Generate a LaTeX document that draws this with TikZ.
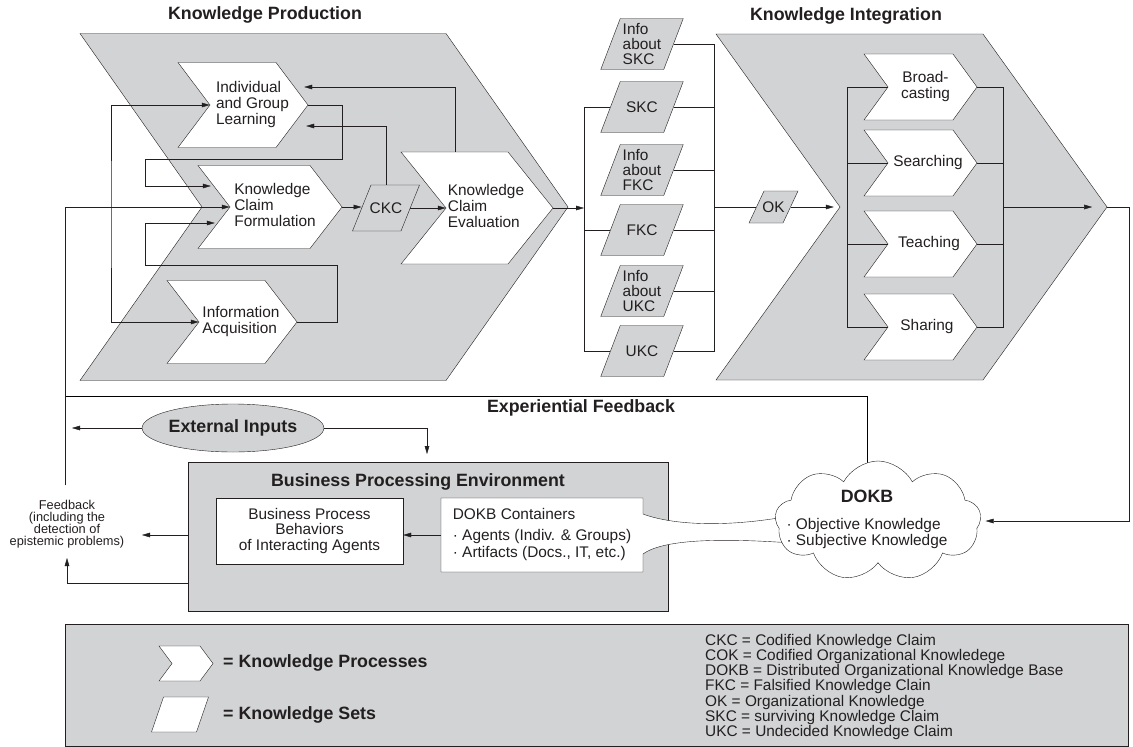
\documentclass[tikz,border=0pt]{standalone}
\usepackage{fontspec}
\setmainfont{Liberation Sans}
\usetikzlibrary{arrows.meta,calc,shapes.geometric,shapes.symbols}
\pgfdeclarelayer{back}
\pgfsetlayers{back,main}
\definecolor{kgray}{HTML}{D1D3D4}
\definecolor{ink}{HTML}{231F20}
\newcommand\bodyfont{\fontsize{15.4}{15.3}\selectfont}
\newcommand\headfont{\fontsize{17.8}{18}\selectfont\bfseries}
% left-aligned / centred text blocks with extra room on the right
\newcommand\ctab[2]{\begin{tabular}{@{}l@{\hspace{#1}}}#2\end{tabular}}
\newcommand\cctab[2]{\begin{tabular}{@{}c@{\hspace{#1}}}#2\end{tabular}}
% process chevron: [fill]{name}{notch x}{tip x}{mid y}{height}{depth}{text}
\newcommand\chev[8][white]{%
  \pgfmathsetmacro\chw{#4-#3}%
  \filldraw[fill=#1] (#3-#7,#5-#6/2) -- (#4-#7,#5-#6/2) -- (#4,#5)
    -- (#4-#7,#5+#6/2) -- (#3-#7,#5+#6/2) -- (#3,#5) -- cycle;
  \node[chevnode, minimum width=\chw pt, minimum height=#6pt] (#2) at ({(#3+#4)/2},#5) {#8};}
% knowledge set parallelogram: [fill]{name}{x}{y}{width}{height}{slant}{text}
\newcommand\kset[8][kgray]{%
  \pgfmathsetmacro\ksl{#7/2}%
  \filldraw[fill=#1] (#3-#5/2-\ksl,#4+#6/2) -- (#3+#5/2-\ksl,#4+#6/2)
    -- (#3+#5/2+\ksl,#4-#6/2) -- (#3-#5/2+\ksl,#4-#6/2) -- cycle;
  \node[setnode, minimum width=#5pt, minimum height=#6pt] (#2) at (#3,#4) {#8};}

\begin{document}
\begin{tikzpicture}[x=1pt, y=-1pt, line width=1pt, color=ink,
  arr/.style={-{Triangle[length=8pt,width=4.6pt]}},
  arrboth/.style={{Triangle[length=8pt,width=4.6pt]}-{Triangle[length=8pt,width=4.6pt]}},
  chevnode/.style={inner sep=0pt, font=\bodyfont},
  setnode/.style={inner sep=0pt, font=\bodyfont, align=left},
  head/.style={font=\headfont, inner sep=0pt}]
\useasboundingbox (0,0) rectangle (1133,747);
\begin{pgfonlayer}{back}
  \fill[white] (0,0) rectangle (1133,747);
\end{pgfonlayer}

% ---- titles
\node[head] (tkp) at (265,15) {Knowledge Production};
\node[head] (tki) at (846,16) {Knowledge Integration};

% ---- the two main processes
\chev[kgray]{kp}{202}{568}{207}{347}{122}{}
\chev[kgray]{ki}{840}{1107}{207}{346}{124}{}

% ---- knowledge production sub-processes
\chev{igl}{210}{308}{105}{85}{32}{\ctab{13pt}{Individual\\and Group\\Learning}}
\chev{kcf}{230}{342}{207}{83}{32}{\ctab{22pt}{Knowledge\\Claim\\Formulation}}
\chev{ia}{199}{297}{322}{83}{32}{\ctab{14pt}{Information\\Acquisition}}
\chev{kce}{446}{553}{208}{112}{45}{\ctab{27pt}{Knowledge\\Claim\\Evaluation}}

% ---- knowledge integration sub-processes
\chev{bc}{888}{977}{87}{66}{24}{\cctab{14pt}{Broad-\\casting}}
\chev{se}{888}{977}{163}{66}{24}{\cctab{9pt}{Searching}}
\chev{te}{888}{977}{244}{66}{24}{\cctab{7pt}{Teaching}}
\chev{sh}{888}{977}{327}{66}{24}{\cctab{11pt}{Sharing}}

% ---- knowledge sets
\kset{ckc}{386}{208}{48.5}{46}{18.5}{CKC}
\kset{iskc}{642}{44}{63}{51}{19.5}{Info\\about\\SKC}
\kset{skc}{642}{107}{63}{51}{19.5}{SKC}
\kset{ifkc}{642}{170}{63}{51}{19.5}{Info\\about\\FKC}
\kset{fkc}{642}{230}{63}{51}{19.5}{FKC}
\kset{iukc}{642}{291}{63}{51}{19.5}{Info\\about\\UKC}
\kset{ukc}{642}{351}{63}{51}{19.5}{UKC}
\kset{ok}{773.5}{207}{34}{32}{15}{OK}

% ---- flows inside knowledge production
\draw[arr] (kcf.east) -- (kcf.east -| ckc.west);
\draw[arr] (ckc.east) -- (ckc.east -| kce.west);
\draw[arr] ($(kce.north)+(-44.5,0)$) |- ($(igl.east)+(-4,-18)$);
\draw[arr] (ckc.north) |- ($(igl.east)+(-2,21)$);
\draw[arr] (igl.east) -| (342,159) -- (145,159) |- ($(kcf.west)+(-19,-21)$);
\draw[arr] (ia.east) -| (337,265) -- (145,265) |- ($(kcf.west)+(-15,16)$);
\draw[arrboth] (igl.west) -| (111,215) |- (ia.west);

% ---- sets between production and integration
\coordinate (lbx) at (584,0);
\coordinate (rbx) at (714,0);
\draw[arr] (kce.east) -- (kce.east -| lbx);
\draw (skc.west) -- (skc.west -| lbx) -- (ukc.west -| lbx) -- (ukc.west);
\draw (fkc.west) -- (fkc.west -| lbx);
\draw (iskc.east) -- (iskc.east -| rbx) -- (ukc.east -| rbx) -- (ukc.east);
\foreach \s in {skc,ifkc,fkc,iukc} \draw (\s.east) -- (\s.east -| rbx);
\draw (rbx |- ok.west) -- (ok.west);
\draw[arr, shorten >=6pt] (ok.east) -- (ok.east -| ki.west);

% ---- flows inside knowledge integration
\coordinate (klx) at (847,0);
\coordinate (krx) at (1003,0);
\draw (bc.west) -- (bc.west -| klx) -- (sh.west -| klx) -- (sh.west);
\foreach \s in {se,te} \draw (\s.west) -- (\s.west -| klx);
\draw (bc.east) -- (bc.east -| krx) -- (sh.east -| krx) -- (sh.east);
\foreach \s in {se,te} \draw (\s.east) -- (\s.east -| krx);
\draw[arr, shorten >=15pt] (krx |- ki.east) -- (ki.east);

% ---- business processing environment
\node[draw, fill=kgray, minimum width=480pt, minimum height=149pt, inner sep=0pt] (bpe) at (428,536.5) {};
\node[head] (bpet) at (418,482) {Business Processing Environment};
\node[draw, fill=white, minimum width=187pt, minimum height=66pt, inner sep=0pt,
      align=center, font=\bodyfont] (bpb) at (309.5,531) {Business Process\\Behaviors\\of Interacting Agents};
% container box opening into the knowledge base
\filldraw[fill=white] (643,514) -- (643,498) -- (441,498) -- (441,572) -- (643,572) -- (643,554)
  .. controls (665,538) and (730,538) .. (805,544) -- (805,513)
  .. controls (735,528) and (675,526) .. (643,514) -- cycle;
\node[minimum width=202pt, minimum height=74pt, inner sep=0pt, align=left,
      font=\fontsize{15.4}{17}\selectfont] (dc) at (542,535)
  {DOKB Containers\\[4pt]· Agents (Indiv. \& Groups)\\· Artifacts (Docs., IT, etc.)};

% ---- distributed organizational knowledge base
\node[cloud, draw, fill=white, cloud puffs=9, cloud puff arc=125, aspect=1.7,
      minimum width=206pt, minimum height=120pt, inner sep=0pt] (dokb) at (878,521) {};
\node[anchor=base, font=\bodyfont, inner sep=0pt] (dokbt) at (867,502)
  {\begin{tabular}[t]{@{}l@{}}\multicolumn{1}{@{}c@{}}{\headfont DOKB}\\[12pt]· Objective Knowledge\\· Subjective Knowledge\end{tabular}};

% ---- external inputs and feedback
\node[ellipse, draw, fill=kgray, minimum width=173pt, minimum height=48pt, inner sep=0pt,
      font=\headfont] (ei) at (233,428) {External Inputs};
\node[head] (ef) at (581,408) {Experiential Feedback};
\node[align=center, font=\fontsize{12.8}{12}\selectfont, inner sep=0pt] (fb) at (67,524)
  {Feedback\\(including the\\detection of\\epistemic problems)};

\coordinate (fbtop) at (65,485);
\coordinate (fbj) at (65,396);
\coordinate (cx) at (867,0);
\coordinate (eil) at (72,428);
\coordinate (eid) at (427,454);
\coordinate (fba) at (142,535);
\coordinate (fbb) at (67,558);
\coordinate (rr) at (1129,207);
\draw[arr] (fbtop) |- (kcf.west);
\begin{pgfonlayer}{back}
  \draw (dokb.center -| cx) |- (fbj);
\end{pgfonlayer}
\draw[arr] (ei.west) -- (eil);
\draw[arr] (ei.east) -| (eid);
\draw[arr] (bpe.west |- fba) -- (fba);
\draw[arr] ($(bpe.south west)+(0,-28)$) -| (fbb);
\draw[arr] (dc.west |- fba) -- (bpb.east |- fba);
\draw[arr, shorten >=5pt] (ki.east) -- (rr) |- (dokb.east);

% ---- legend
\node[draw, fill=kgray, minimum width=1063pt, minimum height=122pt, inner sep=0pt] (leg) at (596.5,685) {};
\chev{lgc}{172}{213}{663.5}{35}{13}{}
\kset[white]{lgs}{180}{714.5}{45}{35}{12}{}
\node[head, anchor=west] (lgp) at (223,663) {= Knowledge Processes};
\node[head, anchor=west] (lgk) at (223,715) {= Knowledge Sets};
\node[anchor=west, align=left, font=\fontsize{15.4}{15.33}\selectfont, inner sep=0pt] (abbr) at (705,687)
  {CKC = Codified Knowledge Claim\\COK = Codified Organizational Knowledege\\DOKB = Distributed Organizational Knowledge Base\\FKC = Falsified Knowledge Clain\\OK = Organizational Knowledge\\SKC = surviving Knowledge Claim\\UKC = Undecided Knowledge Claim};
\end{tikzpicture}
\end{document}
